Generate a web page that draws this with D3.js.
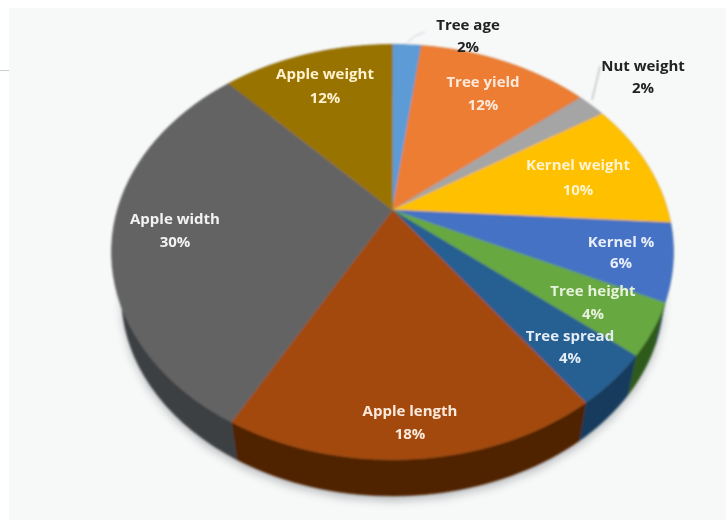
<!DOCTYPE html>
<html><head><meta charset="utf-8">
<script src="https://cdnjs.cloudflare.com/ajax/libs/d3/7.8.5/d3.min.js"></script>
<style>html,body{margin:0;padding:0;background:#fff}svg{display:block}</style>
</head><body>
<svg id="c" width="726" height="520"></svg>
<script>
const categories = ["Tree age","Tree yield","Nut weight","Kernel weight","Kernel %","Tree height","Tree spread","Apple length","Apple width","Apple weight"];
const values = [2,12,2,10,6,4,4,18,30,12];
const topColors = ["#5b9bd5","#ed7d31","#a5a5a5","#ffc000","#4472c4","#68a840","#255e91","#a34a0c","#636363","#997300"];
const sideColors = ["#35597c","#8a481c","#606060","#947000","#284273","#2f5a1c","#143a5c","#4f2405","#3d4042","#594300"];

const W = 726, H = 520;
const svg = d3.select("#c");
const defs = svg.append("defs");
defs.append("filter").attr("id","soft").attr("x","-5%").attr("y","-5%").attr("width","110%").attr("height","110%")
  .append("feGaussianBlur").attr("stdDeviation",0.9);
defs.append("filter").attr("id","txt").attr("x","-10%").attr("y","-30%").attr("width","120%").attr("height","160%")
  .append("feGaussianBlur").attr("stdDeviation",0.75);
defs.append("filter").attr("id","shadow").attr("x","-10%").attr("y","-10%").attr("width","120%").attr("height","120%")
  .append("feGaussianBlur").attr("stdDeviation",5);

// panel
svg.append("rect").attr("x",9).attr("y",8).attr("width",W-9).attr("height",H-8).attr("fill","#f7f8f8");
svg.append("line").attr("x1",0).attr("x2",9).attr("y1",70.5).attr("y2",70.5).attr("stroke","#c9cdd0").attr("stroke-width",1);

// perspective projection of the pie disc
const apex = {x:392.5, y:210};
const k = -0.203, A = 275, B = 199;
function project(theta, r, dy, s){
  const u = r*Math.sin(theta), v = -r*Math.cos(theta), w = 1 + k*v;
  return [apex.x + s*A*u/w, apex.y + dy + s*B*v/w];
}
const pie = d3.pie().value(d => d).sort(null)(values);
const line = d3.line();
const arcPts = (a0,a1,dy,s) => d3.range(0,41).map(i => project(a0 + (a1-a0)*i/40, 1, dy, s));
const DEPTH = 45, SCALE = 0.965;

const g = svg.append("g").attr("filter","url(#soft)");

// soft shadow below the pie
svg.insert("path","g")
  .attr("d", line(arcPts(0,2*Math.PI,DEPTH+5,SCALE)) + "Z")
  .attr("fill","#8d9296").attr("opacity",0.6).attr("filter","url(#shadow)");

// side walls, back to front
g.selectAll("path.side").data(pie).join("path").attr("class","side")
  .attr("d", d => {
    const t = arcPts(d.startAngle,d.endAngle,0,1);
    const b = arcPts(d.startAngle,d.endAngle,DEPTH,SCALE).reverse();
    return line(t.concat(b)) + "Z";
  })
  .attr("fill",(d,i)=>sideColors[i]).attr("stroke",(d,i)=>sideColors[i]).attr("stroke-width",0.5);

// top faces
g.selectAll("path.top").data(pie).join("path").attr("class","top")
  .attr("d", d => line([[apex.x,apex.y]].concat(arcPts(d.startAngle,d.endAngle,0,1))) + "Z")
  .attr("fill",(d,i)=>topColors[i]).attr("stroke",(d,i)=>topColors[i]).attr("stroke-width",0.4);

// leader lines
const leaders = [
  [[407,43],[414,36],[425,32]],
  [[592,100],[596,84],[600,66]]
];
leaders.forEach((l,i) => g.append("path")
  .attr("d", d3.line().curve(d3.curveBasis)(l)).attr("fill","none")
  .attr("stroke", i ? "#b5b8ba" : "#d5dee6").attr("stroke-width",1.2));

// labels
const labelAt = [
  [468,25,47],[483,82,105],[643,66,88],[578,165,190],[621,242,263],
  [593,291,314],[570,336,358],[410,411,434],[175,219,242],[325,74,98]
];
const labelFill = ["#222","#fde9dc","#222","#fff4d0","#e8eefa","#e6f2dc","#e4edf6","#fbeadc","#f2f2f2","#fff2cf"];
const T = svg.append("g").attr("filter","url(#txt)")
  .attr("font-family","'Open Sans', sans-serif").attr("font-weight",700).attr("font-size",15)
  .attr("text-anchor","middle");
categories.forEach((c,i) => {
  T.append("text").attr("x",labelAt[i][0]).attr("y",labelAt[i][1]+5).attr("fill",labelFill[i]).text(c);
  T.append("text").attr("x",labelAt[i][0]).attr("y",labelAt[i][2]+5).attr("fill",labelFill[i]).text(values[i]+"%");
});
</script>
</body></html>
